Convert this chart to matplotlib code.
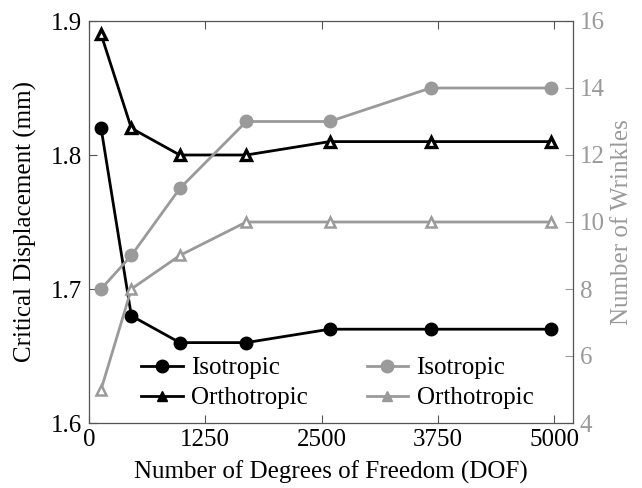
import matplotlib
matplotlib.use("Agg")
import matplotlib.pyplot as plt
from matplotlib.lines import Line2D

plt.rcParams['font.family'] = ['Liberation Serif', 'DejaVu Serif']
plt.rcParams['mathtext.fontset'] = 'stix'

dof = [130, 455, 975, 1690, 2585, 3670, 4960]
disp_iso = [1.82, 1.68, 1.66, 1.66, 1.67, 1.67, 1.67]
disp_ortho = [1.89, 1.82, 1.80, 1.80, 1.81, 1.81, 1.81]
wr_iso = [8, 9, 11, 13, 13, 14, 14]
wr_ortho = [5, 8, 9, 10, 10, 10, 10]
xticks = [0, 1250, 2500, 3750, 5000]
lticks = [1.6, 1.7, 1.8, 1.9]
rticks = [4, 6, 8, 10, 12, 14, 16]

GRAY = '#9a9a9a'
SPINE = '#555555'
FS = 18
LW = 2.0

fig = plt.figure(figsize=(6.42, 4.88), dpi=100)
ax = fig.add_axes([89/642, 1-423/488, (573-89)/642, (423-21)/488])
ax2 = ax.twinx()

ax.plot(dof, disp_iso, color='black', lw=LW, marker='o', ms=9, zorder=3)
ax.plot(dof, disp_ortho, color='black', lw=LW, marker='^', ms=7.5,
        mfc='white', mec='black', mew=2.4, zorder=3)
ax2.plot(dof, wr_iso, color=GRAY, lw=LW, marker='o', ms=9)
ax2.plot(dof, wr_ortho, color=GRAY, lw=LW, marker='^', ms=7.5,
         mfc='white', mec=GRAY, mew=1.8)

ax.set_xlim(0, 5200)
ax.set_ylim(1.6, 1.9)
ax2.set_ylim(4, 16)
ax.set_xticks(xticks)
ax.set_xticklabels([str(t) for t in xticks])
ax.set_yticks(lticks)
ax.set_yticklabels([f"{t:.1f}" for t in lticks])
ax2.set_yticks(rticks)
ax2.set_yticklabels([str(t) for t in rticks])

ax.tick_params(axis='x', direction='in', top=True, length=6, color=SPINE,
               labelsize=FS, pad=4)
ax.tick_params(axis='y', direction='in', length=6, color=SPINE, labelsize=FS, pad=5)
ax2.tick_params(axis='y', direction='in', length=6, color=GRAY,
                labelcolor=GRAY, labelsize=FS, pad=5)

for s in ['left', 'top', 'bottom', 'right']:
    ax2.spines[s].set_color(SPINE)

ax.set_xlabel('Number of Degrees of Freedom (DOF)', fontsize=FS, labelpad=7)
ax.set_ylabel('Critical Displacement (mm)', fontsize=FS, labelpad=10)
ax2.set_ylabel('Number of Wrinkles', fontsize=FS, color=GRAY, labelpad=4)

h1 = [Line2D([], [], color='black', lw=LW, marker='o', ms=9),
      Line2D([], [], color='black', lw=LW, marker='^', ms=7.5)]
h2 = [Line2D([], [], color=GRAY, lw=LW, marker='o', ms=9),
      Line2D([], [], color=GRAY, lw=LW, marker='^', ms=7.5)]
common = dict(frameon=False, fontsize=FS, loc='lower left',
              handlelength=1.65, labelspacing=0.3, handletextpad=0.35,
              borderaxespad=0.15)
leg1 = ax2.legend(h1, ['Isotropic', 'Orthotropic'],
                  bbox_to_anchor=(0.08, 0.0), **common)
ax2.add_artist(leg1)
ax2.legend(h2, ['Isotropic', 'Orthotropic'],
           bbox_to_anchor=(0.545, 0.0), **common)

fig.savefig('out.png', dpi=100)
